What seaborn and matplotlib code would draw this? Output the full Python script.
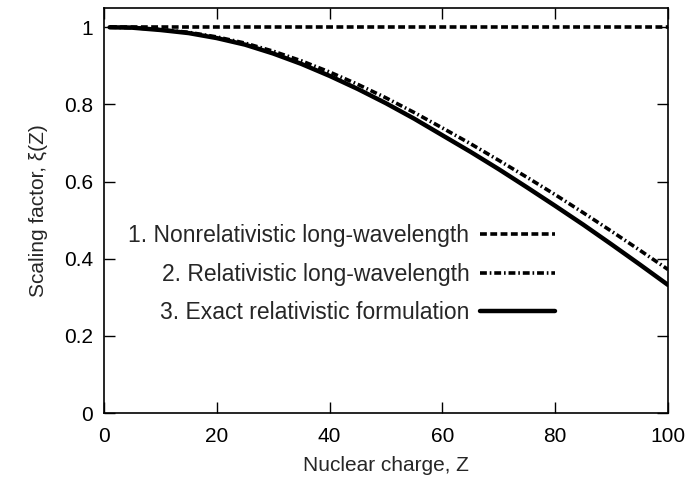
import numpy as np
import pandas as pd
import matplotlib
matplotlib.use("Agg")
import matplotlib.pyplot as plt
import seaborn as sns

# Data
Z = [1, 5, 10, 15, 20, 25, 30, 35, 40, 45, 50, 55, 60, 65, 70, 75, 80, 85, 90, 95, 100]
nonrel = [1.0] * len(Z)
rel_lw = [1.0, 0.999, 0.994, 0.987, 0.975, 0.959, 0.938, 0.913, 0.884, 0.852, 0.817,
          0.779, 0.739, 0.698, 0.655, 0.611, 0.566, 0.519, 0.471, 0.422, 0.372]
exact = [1.0, 0.999, 0.993, 0.985, 0.972, 0.955, 0.932, 0.905, 0.874, 0.840, 0.803,
         0.763, 0.720, 0.677, 0.632, 0.585, 0.537, 0.488, 0.437, 0.385, 0.332]
labels = ["1. Nonrelativistic long-wavelength",
          "2. Relativistic long-wavelength",
          "3. Exact relativistic formulation"]
xticks = [0, 20, 40, 60, 80, 100]
yticks = [0, 0.2, 0.4, 0.6, 0.8, 1]
ytick_labels = ["0", "0.2", "0.4", "0.6", "0.8", "1"]

sns.set_theme(style="ticks")
plt.rcParams["font.family"] = ["Liberation Sans", "DejaVu Sans"]

W, H = 688, 486
fig = plt.figure(figsize=(W / 100, H / 100), dpi=100)
ax = fig.add_axes([104 / W, (H - 413) / H, 564 / W, (413 - 8) / H])

sns.lineplot(x=Z, y=nonrel, ax=ax, color="black", lw=2.6, label=labels[0])
ax.lines[-1].set_dashes((1.9, 0.95))
sns.lineplot(x=Z, y=rel_lw, ax=ax, color="black", lw=2.6, label=labels[1])
ax.lines[-1].set_dashes((1.9, 0.8, 0.45, 0.8))
sns.lineplot(x=Z, y=exact, ax=ax, color="black", lw=3.2, label=labels[2])

ax.set_xlim(0, 100)
ax.set_ylim(0, 1.05)
ax.set_xticks(xticks)
ax.set_yticks(yticks)
ax.set_yticklabels(ytick_labels)
ax.tick_params(direction="in", length=8, width=1.0, top=True, right=True,
               labelsize=15, colors="black")
ax.tick_params(axis="x", pad=10)
ax.tick_params(axis="y", pad=8)
for s in ax.spines.values():
    s.set_linewidth(1.2)
    s.set_color("black")
ax.set_xlabel("Nuclear charge, Z", fontsize=15, labelpad=7)
ax.set_ylabel("Scaling factor, ξ(Z)", fontsize=15, labelpad=11)

leg = ax.legend(loc="center right", bbox_to_anchor=(0.800, 0.343), markerfirst=False,
                frameon=False, fontsize=16.5, handlelength=3.3, labelspacing=0.68,
                handletextpad=0.45, borderpad=0, borderaxespad=0)

fig.savefig("out.png", dpi=100)
